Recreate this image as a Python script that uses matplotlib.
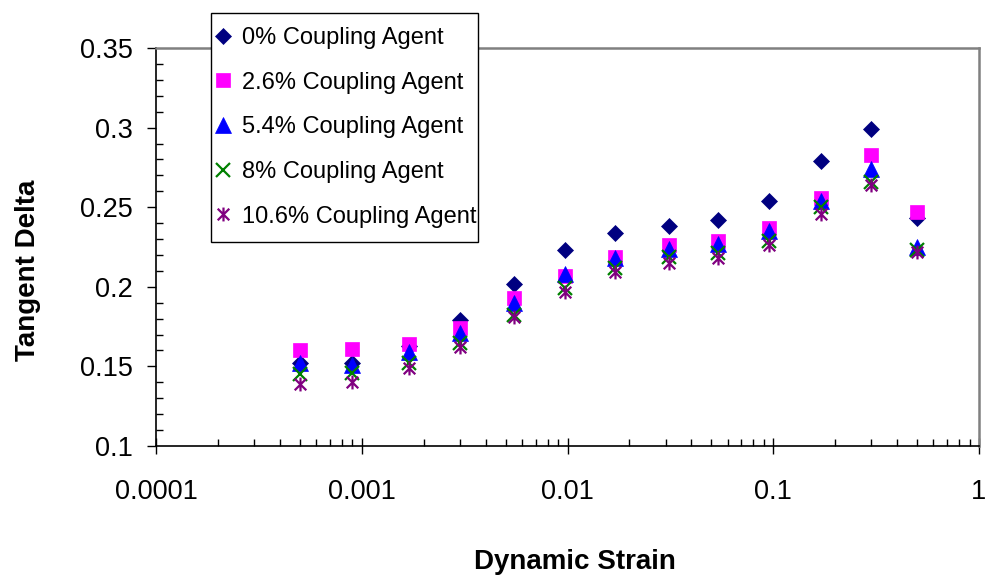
import numpy as np
import matplotlib.pyplot as plt
from matplotlib.path import Path
from matplotlib.patches import Rectangle
from matplotlib.ticker import LogLocator, MultipleLocator, NullFormatter

plt.rcParams['font.family'] = ['Liberation Sans', 'DejaVu Sans']

# данные
strain = [0.0005, 0.0009, 0.0017, 0.003, 0.0055, 0.0097, 0.017, 0.031, 0.054, 0.095, 0.17, 0.3, 0.5]
tan_0 = [0.152, 0.152, 0.163, 0.179, 0.202, 0.223, 0.234, 0.238, 0.242, 0.254, 0.279, 0.299, 0.243]
tan_26 = [0.160, 0.161, 0.164, 0.174, 0.193, 0.207, 0.219, 0.226, 0.229, 0.237, 0.256, 0.283, 0.247]
tan_54 = [0.152, 0.151, 0.159, 0.171, 0.190, 0.208, 0.218, 0.224, 0.227, 0.235, 0.254, 0.274, 0.225]
tan_8 = [0.145, 0.146, 0.152, 0.165, 0.182, 0.199, 0.212, 0.219, 0.221, 0.229, 0.250, 0.266, 0.223]
tan_106 = [0.139, 0.140, 0.149, 0.162, 0.181, 0.197, 0.209, 0.215, 0.218, 0.226, 0.246, 0.264, 0.222]
labels = ['0% Coupling Agent', '2.6% Coupling Agent', '5.4% Coupling Agent',
          '8% Coupling Agent', '10.6% Coupling Agent']

x_ticks = [0.0001, 0.001, 0.01, 0.1, 1]
x_ticklabels = ['0.0001', '0.001', '0.01', '0.1', '1']
y_ticks = [0.1, 0.15, 0.2, 0.25, 0.3, 0.35]
y_ticklabels = ['0.1', '0.15', '0.2', '0.25', '0.3', '0.35']

# звёздочка как в Excel: крест + вертикальная черта
star = Path([(-1, -1), (1, 1), (-1, 1), (1, -1), (0, -1.2), (0, 1.2)],
            [Path.MOVETO, Path.LINETO] * 3)

fig = plt.figure(figsize=(9.87, 5.80), dpi=100)
ax = fig.add_axes([156 / 987, 1 - 446 / 580, 823 / 987, 398 / 580])

ax.plot(strain, tan_0, ls='none', marker='D', ms=8, color='#000080', mew=0.5, label=labels[0])
ax.plot(strain, tan_26, ls='none', marker='s', ms=9.5, color='#FF00FF', mew=0.5, label=labels[1])
ax.plot(strain, tan_54, ls='none', marker='^', ms=11, color='#0000FF', mew=0.5, label=labels[2])
ax.plot(strain, tan_8, ls='none', marker='x', ms=9.5, color='#008000', mew=1.6, label=labels[3])
ax.plot(strain, tan_106, ls='none', marker=star, ms=10, color='#800080', mfc='none', mew=1.6,
        label=labels[4])

ax.set_xscale('log')
ax.set_xlim(1e-4, 1)
ax.set_ylim(0.1, 0.35)
ax.set_xticks(x_ticks)
ax.set_xticklabels(x_ticklabels)
ax.set_yticks(y_ticks)
ax.set_yticklabels(y_ticklabels)
ax.xaxis.set_minor_locator(LogLocator(base=10, subs=np.arange(2, 10)))
ax.xaxis.set_minor_formatter(NullFormatter())
ax.yaxis.set_minor_locator(MultipleLocator(0.01))

ax.tick_params(axis='x', which='major', direction='inout', length=11, width=1, pad=18, labelsize=19.5)
ax.tick_params(axis='x', which='minor', direction='in', length=5, width=1)
ax.tick_params(axis='y', which='major', direction='out', length=6.5, width=1, pad=10, labelsize=19.5)
ax.tick_params(axis='y', which='minor', direction='in', length=5, width=1)

for s in ['left', 'bottom']:
    ax.spines[s].set_color('black')
    ax.spines[s].set_linewidth(1.2)
for s in ['top', 'right']:
    ax.spines[s].set_color('#808080')
    ax.spines[s].set_linewidth(1.8)

ax.set_xlabel('Dynamic Strain', fontsize=20, fontweight='bold')
ax.set_ylabel('Tangent Delta', fontsize=20, fontweight='bold')
ax.xaxis.set_label_coords(0.509, -0.291)
ax.yaxis.set_label_coords(-0.1555, 0.442)
ax.xaxis.label.set_va('center')
ax.yaxis.label.set_va('center')

# легенда без рамки, рамку рисуем сами (по вертикали поля больше)
leg = ax.legend(loc='upper left', bbox_to_anchor=(211 / 987, 1 - 20 / 580),
                bbox_transform=fig.transFigure, borderaxespad=0, fontsize=17,
                numpoints=1, handlelength=0.45, handletextpad=0.57, borderpad=0.3,
                labelspacing=0.96, frameon=False)

fig.canvas.draw()
bb = leg.get_window_extent()
extra = 7
frame = Rectangle((bb.x0 / 987, (bb.y0 - extra) / 580), (bb.width - 6) / 987,
                  (bb.height + 2 * extra) / 580, transform=fig.transFigure,
                  facecolor='white', edgecolor='black', linewidth=1.0, zorder=4)
fig.add_artist(frame)
leg.set_zorder(5)
leg.remove()
fig.add_artist(leg)

fig.savefig('out.png', dpi=100)
